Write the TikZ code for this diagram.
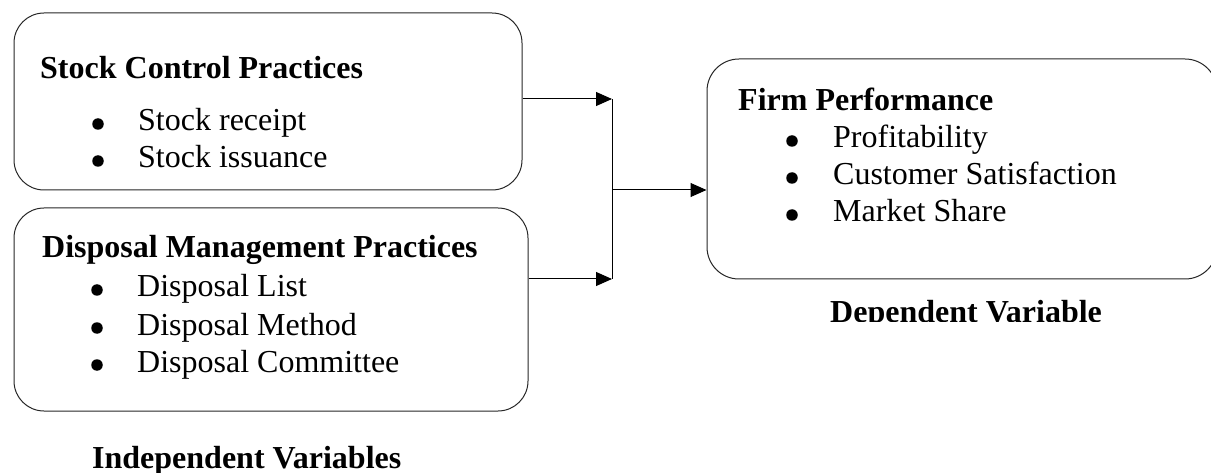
\documentclass[tikz,border=0pt]{standalone}
\usepackage{fontspec}
\setmainfont{Liberation Serif}
\usetikzlibrary{arrows.meta}
\begin{document}
\begin{tikzpicture}[x=1pt,y=-1pt,
  box/.style={draw=black!85,line width=1pt,rounded corners=30pt,inner sep=0pt},
  title/.style={anchor=base west,inner sep=0pt,font=\fontsize{32}{38}\selectfont\bfseries},
  item/.style={anchor=base west,inner sep=0pt,font=\fontsize{32}{38}\selectfont},
  dot/.style={circle,fill=black,inner sep=0pt,minimum size=11.5pt},
  conn/.style={draw=black,line width=1pt},
  arr/.style={conn,-{Triangle[length=16pt,width=14pt]}}]
\useasboundingbox (0,0) rectangle (1211,473);
\clip (0,0) rectangle (1211,473);
% boxes
\node[box,minimum width=508pt,minimum height=177pt] (b1) at (268,101.5) {};
\node[box,minimum width=514pt,minimum height=203pt] (b2) at (271,309.5) {};
\node[box,rounded corners=32pt,minimum width=510pt,minimum height=220pt] (b3) at (962,169) {};
% box 1 text
\node[title] (t1) at (40,79) {Stock Control Practices};
\node[dot] (d11) at (98,124) {};
\node[item] (i11) at (138,131) {Stock receipt};
\node[dot] (d12) at (98,161) {};
\node[item] (i12) at (138,168) {Stock issuance};
% box 2 text
\node[title] (t2) at (42,258) {Disposal Management Practices};
\node[dot] (d21) at (97,290) {};
\node[item] (i21) at (137,297) {Disposal List};
\node[dot] (d22) at (97,328) {};
\node[item] (i22) at (137,335) {Disposal Method};
\node[dot] (d23) at (97,365) {};
\node[item] (i23) at (137,372) {Disposal Committee};
% box 3 text
\node[title] (t3) at (738,111) {Firm Performance};
\node[dot] (d31) at (792,141) {};
\node[item] (i31) at (833,148) {Profitability};
\node[dot] (d32) at (792,178) {};
\node[item] (i32) at (833,185) {Customer Satisfaction};
\node[dot] (d33) at (792,215) {};
\node[item] (i33) at (833,222) {Market Share};
% captions
\begin{scope}
\clip (800,280) rectangle (1150,322);
\node[title] (dep) at (830,323) {Dependent Variable};
\end{scope}
\node[title] (ind) at (92,468) {Independent Variables};
% connectors
\coordinate (j1) at (612,99);
\coordinate (j2) at (612,279);
\coordinate (jm) at (612,190);
\draw[arr] (j1 -| b1.east) -- (j1);
\draw[arr] (j2 -| b2.east) -- (j2);
\draw[conn] (j1) -- (j2);
\draw[arr] (jm) -- (jm -| b3.west);
\end{tikzpicture}
\end{document}
